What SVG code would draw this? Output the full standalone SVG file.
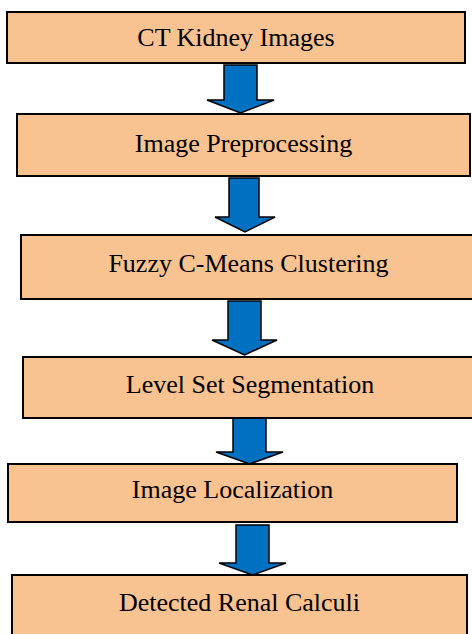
<svg xmlns="http://www.w3.org/2000/svg" width="472" height="634" viewBox="0 0 472 634">
  <style>
    .box { fill: #F9C291; stroke: #000; stroke-width: 2; }
    .lbl { font-family: 'Liberation Serif', 'Times New Roman', 'DejaVu Serif', serif; font-size: 26px; fill: #000; text-anchor: middle; }
    .arrow { fill: #0070C0; stroke: #000; stroke-width: 1.5; stroke-linejoin: miter; }
  </style>
  <rect width="472" height="634" fill="#fff"/>

  <!-- block arrows between the stages -->
  <g id="connectors">
    <polygon class="arrow" points="224,65 257,65 257,100 274,100 240.5,113 207,100 224,100"/>
    <polygon class="arrow" points="229,178 259,178 259,217 275,217 245,232 215,217 229,217"/>
    <polygon class="arrow" points="228,301 261,301 261,340 277,340 244.5,355 212,340 228,340"/>
    <polygon class="arrow" points="233,418 266,418 266,452 283,452 249.5,464 216,452 233,452"/>
    <polygon class="arrow" points="236,525 269,525 269,563 286,563 252.5,575 219,563 236,563"/>
  </g>

  <g id="ct-kidney-images">
    <rect class="box" x="7" y="12" width="458" height="51"/>
    <text class="lbl" x="236" y="46" font-family="Liberation Serif, serif">CT Kidney Images</text>
  </g>

  <g id="image-preprocessing">
    <rect class="box" x="17" y="114" width="453" height="62"/>
    <text class="lbl" x="243.5" y="152" font-family="Liberation Serif, serif">Image Preprocessing</text>
  </g>

  <g id="fuzzy-c-means">
    <rect class="box" x="21" y="235" width="456" height="64"/>
    <text class="lbl" x="248.5" y="272" font-family="Liberation Serif, serif">Fuzzy C-Means Clustering</text>
  </g>

  <g id="level-set-segmentation">
    <rect class="box" x="23" y="357" width="455" height="61"/>
    <text class="lbl" x="250" y="393" font-family="Liberation Serif, serif">Level Set Segmentation</text>
  </g>

  <g id="image-localization">
    <rect class="box" x="8" y="464" width="449" height="58"/>
    <text class="lbl" x="232.5" y="498" font-family="Liberation Serif, serif">Image Localization</text>
  </g>

  <g id="detected-renal-calculi">
    <rect class="box" x="12" y="575" width="455" height="64"/>
    <text class="lbl" x="239.5" y="611" font-family="Liberation Serif, serif">Detected Renal Calculi</text>
  </g>
</svg>
